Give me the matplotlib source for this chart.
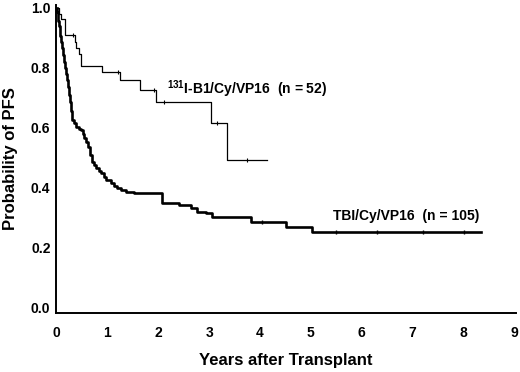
import numpy as np
import matplotlib
matplotlib.use("Agg")
import matplotlib.pyplot as plt

plt.rcParams['font.family'] = ['Liberation Sans', 'DejaVu Sans']
plt.rcParams['font.weight'] = 'bold'

# 131I-B1/Cy/VP16 (n=52) - Kaplan-Meier steps
rit_time = [0, 0.04, 0.08, 0.17, 0.36, 0.39, 0.45, 0.49, 0.89, 1.25, 1.64, 1.96, 3.04, 3.35, 4.14]
rit_surv = [1.0, 0.98, 0.963, 0.91, 0.885, 0.865, 0.845, 0.805, 0.785, 0.76, 0.725, 0.685, 0.617, 0.493, 0.493]
rit_cens = [0.33, 1.2, 1.92, 2.12, 3.16, 3.75]

# TBI/Cy/VP16 (n=105)
tbi_time = [0, 0.01, 0.02, 0.03, 0.045, 0.06, 0.075, 0.09, 0.105, 0.12, 0.14, 0.16, 0.18, 0.2,
            0.22, 0.25, 0.27, 0.29, 0.31, 0.35, 0.39, 0.44, 0.49, 0.52, 0.55, 0.58, 0.61, 0.65,
            0.69, 0.73, 0.78, 0.83, 0.88, 0.93, 0.98, 1.08, 1.13, 1.18, 1.27, 1.37, 1.53,
            2.08, 2.41, 2.65, 2.76, 2.94, 3.06, 3.82, 4.51, 5.02, 8.35]
tbi_surv = [1.0, 0.985, 0.97, 0.955, 0.94, 0.925, 0.905, 0.885, 0.865, 0.843, 0.82, 0.8, 0.78, 0.76,
            0.735, 0.71, 0.685, 0.655, 0.627, 0.615, 0.603, 0.598, 0.593, 0.58, 0.567, 0.552, 0.537, 0.51,
            0.487, 0.477, 0.467, 0.458, 0.45, 0.437, 0.427, 0.417, 0.408, 0.40, 0.393, 0.387, 0.383,
            0.35, 0.343, 0.333, 0.32, 0.317, 0.303, 0.287, 0.27, 0.253, 0.253]
tbi_cens = [4.04, 5.5, 6.3, 7.2, 8.0]

fig = plt.figure(figsize=(5.2, 3.72), dpi=100)
ax = fig.add_axes([0.1077, 0.1586, 0.8846, 0.828])

ax.step(rit_time, rit_surv, where='post', color='black', lw=0.9)
ax.step(tbi_time, tbi_surv, where='post', color='black', lw=1.9)

# censoring ticks
def surv_at(times, surv, t):
    i = np.searchsorted(times, t, side='right') - 1
    return surv[i]

ax.plot(rit_cens, [surv_at(rit_time, rit_surv, t) for t in rit_cens], ls='none',
        marker='|', color='black', ms=3, mew=0.8)
ax.plot(tbi_cens, [surv_at(tbi_time, tbi_surv, t) for t in tbi_cens], ls='none',
        marker='|', color='black', ms=3.5, mew=1.0)

ax.text(2.18, 0.73, r'$^{\mathregular{131}}$I-B1/Cy/VP16  (n = 52)', fontsize=10,
        fontweight='bold', va='center', ha='left')
ax.text(5.43, 0.307, 'TBI/Cy/VP16  (n = 105)', fontsize=10, fontweight='bold',
        va='center', ha='left')

ax.set_xlim(-0.01, 9.03)
ax.set_ylim(-0.017, 1.01)
ax.set_xticks(range(0, 10))
ax.set_yticks([0.0, 0.2, 0.4, 0.6, 0.8, 1.0])
ax.set_yticklabels(['0.0', '0.2', '0.4', '0.6', '0.8', '1.0'])
ax.tick_params(length=0, labelsize=10)
ax.tick_params(axis='x', pad=9)
ax.tick_params(axis='y', pad=4)
for lab in ax.get_xticklabels() + ax.get_yticklabels():
    lab.set_fontweight('bold')

for s in ['top', 'right']:
    ax.spines[s].set_visible(False)
for s in ['left', 'bottom']:
    ax.spines[s].set_linewidth(1.4)

ax.set_xlabel('Years after Transplant', fontsize=12, fontweight='bold', labelpad=10)
ax.set_ylabel('Probability of PFS', fontsize=12, fontweight='bold', labelpad=9)

fig.savefig('out.png', dpi=100)
